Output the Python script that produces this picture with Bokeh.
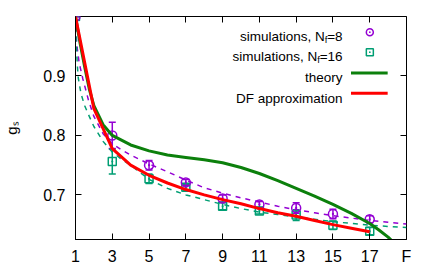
from bokeh.plotting import figure
from bokeh.models import (ColumnDataSource, Whisker, TeeHead, LinearAxis, Range1d,
                          FixedTicker, Label, CustomJSTickFormatter)
from bokeh.embed import file_html
from bokeh.resources import INLINE

# ---------------- data ----------------
sim_x = [1, 3, 5, 7, 9, 11, 13, 15, 17]
sim8_y = [1.0, 0.800, 0.750, 0.721, 0.694, 0.684, 0.678, 0.668, 0.659]
sim8_err = [0.0, 0.022, 0.008, 0.005, 0.006, 0.005, 0.009, 0.008, 0.006]
sim16_y = [1.0, 0.756, 0.727, 0.713, 0.681, 0.673, 0.666, 0.649, 0.639]
sim16_err = [0.0, 0.021, 0.008, 0.005, 0.006, 0.005, 0.009, 0.007, 0.006]

theory_x = [1, 1.25, 1.5, 1.75, 2, 2.5, 3, 4, 5, 6, 7, 8, 9, 10, 11, 12, 13, 14,
            15, 16, 17, 17.5, 18, 18.3]
theory_y = [1.0, 0.955, 0.915, 0.878, 0.850, 0.818, 0.800, 0.784, 0.774, 0.767,
            0.763, 0.759, 0.754, 0.746, 0.736, 0.724, 0.711, 0.698, 0.684, 0.669,
            0.652, 0.641, 0.629, 0.620]

df_x = [1, 2, 3, 4, 5, 6, 7, 8, 9, 10, 11, 12, 13, 14, 15, 16, 17]
df_y = [1.0, 0.845, 0.778, 0.750, 0.733, 0.720, 0.709, 0.700, 0.692, 0.685,
        0.677, 0.670, 0.664, 0.657, 0.650, 0.644, 0.638]

fit8_x = [1, 1.05, 1.1, 1.2, 1.4, 1.7, 2, 2.5, 3, 3.5, 4, 5, 6, 7, 8, 9, 10, 11,
          12, 13, 14, 15, 16, 17, 18, 19]
fit8_y = [1.0, 0.965, 0.945, 0.922, 0.895, 0.860, 0.832, 0.803, 0.786, 0.776,
          0.767, 0.752, 0.739, 0.725, 0.712, 0.703, 0.695, 0.688, 0.681, 0.675,
          0.670, 0.665, 0.661, 0.657, 0.654, 0.651]

fit16_x = [1, 1.05, 1.1, 1.15, 1.3, 1.5, 1.75, 2, 2.5, 3, 3.5, 4, 5, 6, 7, 8, 9,
           10, 11, 12, 13, 14, 15, 16, 17, 18, 19]
fit16_y = [1.0, 0.950, 0.918, 0.897, 0.870, 0.850, 0.832, 0.815, 0.790, 0.772,
           0.760, 0.750, 0.726, 0.711, 0.700, 0.692, 0.684, 0.677, 0.671, 0.667,
           0.663, 0.659, 0.655, 0.652, 0.649, 0.647, 0.645]

x_ticks = [1, 3, 5, 7, 9, 11, 13, 15, 17, 19]
x_tick_labels = {19: "F"}
y_ticks = [0.7, 0.8, 0.9]
y_label = "g\u209b"
legend_labels = [("simulations, N", "f", "=8"), ("simulations, N", "f", "=16"),
                 "theory", "DF approximation"]

# ---------------- style ----------------
PURPLE = "#9400D3"
TEAL = "#009E73"
GREEN = "#0C800C"
RED = "#FF0000"
FONT = "Liberation Sans"

W, H = 436, 273
X0, X1 = 1, 19
Y0, Y1 = 0.625, 1.0
# frame position in canvas pixels (for placing legend annotations)
FL, FR, FT, FB = 72, 406, 16, 239


def xd(px):
    return X0 + (px - FL) / (FR - FL) * (X1 - X0)


def yd(py):
    return Y0 + (FB - py) / (FB - FT) * (Y1 - Y0)


p = figure(width=W, height=H, x_range=Range1d(X0, X1), y_range=Range1d(Y0, Y1),
           output_backend="svg", toolbar_location=None,
           min_border_left=FL, min_border_right=W - FR,
           min_border_top=FT, min_border_bottom=H - FB)
p.grid.visible = False
p.outline_line_color = "black"
p.outline_line_width = 1
p.background_fill_color = "white"
p.border_fill_color = "white"

for ax in (p.xaxis[0], p.yaxis[0]):
    ax.major_tick_in = 6
    ax.major_tick_out = 0
    ax.minor_tick_line_color = None
    ax.major_tick_line_color = "black"
    ax.axis_line_color = "black"
    ax.major_label_text_font = FONT
    ax.major_label_text_font_size = "16px"
    ax.major_label_text_color = "black"
p.xaxis.ticker = FixedTicker(ticks=x_ticks)
p.xaxis.major_label_overrides = x_tick_labels
p.yaxis.ticker = FixedTicker(ticks=y_ticks)
p.xaxis.major_label_standoff = 8
p.yaxis.major_label_standoff = 10
p.yaxis.axis_label = y_label
p.yaxis.axis_label_text_font = FONT
p.yaxis.axis_label_text_font_style = "normal"
p.yaxis.axis_label_text_font_size = "15px"
p.yaxis.axis_label_standoff = 20
p.yaxis.axis_label_text_color = "black"

blank = CustomJSTickFormatter(code="return ''")
for loc, tks in (("right", y_ticks), ("above", x_ticks)):
    a = LinearAxis(ticker=FixedTicker(ticks=tks), formatter=blank,
                   major_tick_in=6, major_tick_out=0, minor_tick_line_color=None,
                   axis_line_color=None, major_label_standoff=0,
                   major_label_text_font_size="1px", major_tick_line_color="black")
    p.add_layout(a, loc)

# fits (dashed)
p.line(fit8_x, fit8_y, line_color=PURPLE, line_width=1.5, line_dash="5 5")
p.line(fit16_x, fit16_y, line_color=TEAL, line_width=1.5, line_dash="5 5")

# simulations
src8 = ColumnDataSource(dict(x=sim_x, y=sim8_y,
                             lo=[v - e for v, e in zip(sim8_y, sim8_err)],
                             hi=[v + e for v, e in zip(sim8_y, sim8_err)]))
src16 = ColumnDataSource(dict(x=sim_x, y=sim16_y,
                              lo=[v - e for v, e in zip(sim16_y, sim16_err)],
                              hi=[v + e for v, e in zip(sim16_y, sim16_err)]))
for src, col in ((src16, TEAL), (src8, PURPLE)):
    w = Whisker(source=src, base="x", upper="hi", lower="lo", line_color=col,
                line_width=1.5,
                upper_head=TeeHead(size=7, line_color=col, line_width=1.5),
                lower_head=TeeHead(size=7, line_color=col, line_width=1.5))
    p.add_layout(w)
p.scatter("x", "y", source=src16, marker="square_dot", size=8, fill_color=None,
          line_color=TEAL, line_width=1.5)
p.scatter("x", "y", source=src8, marker="circle_dot", size=9, fill_color=None,
          line_color=PURPLE, line_width=1.5)

# theory and DF approximation
p.line(theory_x, theory_y, line_color=GREEN, line_width=3)
p.line(df_x, df_y, line_color=RED, line_width=3)

# ---------------- custom legend ----------------
LS = 13.5
R = 341.5
baselines = [36, 56, 77, 98]
centers = [31.7, 51.7, 72.5, 92.7]


def tw(s, size):
    # Arial/Liberation Sans advance widths
    w = {"=": 0.584, "8": 0.556, "1": 0.556, "6": 0.556, "f": 0.278}
    return sum(w[c] for c in s) * size


for i, lab in enumerate(legend_labels):
    by = baselines[i]
    if isinstance(lab, tuple):
        main, sub, tail = lab
        r1 = R - tw(tail, LS)
        r2 = r1 - tw(sub, 9.5)
        p.add_layout(Label(x=xd(R), y=yd(by), text=tail, text_align="right",
                           text_baseline="alphabetic", text_font=FONT,
                           text_font_size=f"{LS}px", text_color="black"))
        p.add_layout(Label(x=xd(r1), y=yd(by + 3), text=sub, text_align="right",
                           text_baseline="alphabetic", text_font=FONT,
                           text_font_size="9.5px", text_color="black"))
        p.add_layout(Label(x=xd(r2), y=yd(by), text=main, text_align="right",
                           text_baseline="alphabetic", text_font=FONT,
                           text_font_size=f"{LS}px", text_color="black"))
    else:
        p.add_layout(Label(x=xd(R), y=yd(by), text=lab, text_align="right",
                           text_baseline="alphabetic", text_font=FONT,
                           text_font_size=f"{LS}px", text_color="black"))

p.scatter([xd(369)], [yd(centers[0])], marker="circle_dot", size=7, fill_color=None,
          line_color=PURPLE, line_width=1.5)
p.scatter([xd(369)], [yd(centers[1])], marker="square_dot", size=7, fill_color=None,
          line_color=TEAL, line_width=1.5)
p.line([xd(350), xd(387)], [yd(centers[2])] * 2, line_color=GREEN, line_width=3)
p.line([xd(350), xd(387)], [yd(centers[3])] * 2, line_color=RED, line_width=3)

open("out.html", "w").write(file_html(p, INLINE))
